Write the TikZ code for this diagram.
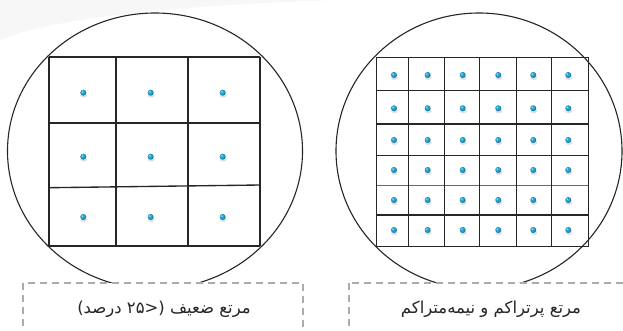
\documentclass[tikz,border=0pt]{standalone}
\usepackage{fontspec}
\newfontfamily\arabicfont[Script=Arabic]{DejaVu Sans}
\TeXXeTstate=1
\definecolor{gridc}{HTML}{262626}
\definecolor{olivec}{HTML}{6E6E58}
\definecolor{dotc}{HTML}{2AA5D0}
\definecolor{dotd}{HTML}{1A7FA6}
\definecolor{dashc}{HTML}{ABABAB}
\tikzset{
  gridline/.style={draw=gridc, line width=1.35pt},
  rim/.style={draw=black!85, line width=1.1pt},
  labelbox/.style={draw=dashc, line width=1.5pt, dash pattern=on 7pt off 5pt, fill=white},
  lbl/.style={font=\arabicfont\fontsize{16.5}{19}\selectfont, text=black!85, inner sep=0pt},
}
\newcommand{\seed}[2]{%
  \fill[black!12] (#1+0.5,#2+2.8) ellipse [x radius=3.4pt, y radius=2.2pt];
  \fill[dotd] (#1,#2) circle [radius=3pt];
  \fill[dotc] (#1-0.4,#2-0.4) circle [radius=2.3pt];
  \fill[white!60!dotc] (#1-0.9,#2-0.9) circle [radius=0.9pt];
}
\begin{document}
\begin{tikzpicture}[x=1pt,y=-1pt]
\clip (0,0) rectangle (623,330);
\fill[white] (0,0) rectangle (623,330);
% faint background reflection
\fill[black!3] (0,40) .. controls (60,15) and (200,5) .. (330,0) -- (0,0) -- cycle;
% left circle
\draw[rim] (155,151) ellipse [x radius=147.5pt, y radius=138pt];
% left grid
\draw[gridline] (49,57) -- (260,57);
\draw[gridline] (49,123) -- (260,123);
\draw[gridline] (49,187.7) -- (260,185);
\draw[gridline] (49,246) -- (260,246);
\foreach \x in {49,116,188,260} \draw[gridline] (\x,57) -- (\x,246);
\foreach \x in {83.3,150.7,222.7}
  \foreach \y in {92.7,156.7,217} {\seed{\x}{\y}}
% right circle
\draw[rim] (479,151) ellipse [x radius=143pt, y radius=138pt];
% right grid
\foreach \y in {57.3,90.7,124,155.3,215,246.7} \draw[gridline] (376.7,\y) -- (588.3,\y);
\draw[draw=olivec, line width=1.35pt] (376.7,185.3) -- (588.3,185.3);
\foreach \x in {376.7,408.3,444.3,479.3,516.7,551.7,588.3} \draw[gridline] (\x,57.3) -- (\x,246.7);
\foreach \x in {394,427.7,462.7,498.3,533.3,568.3}
  \foreach \y in {75,108.3,140,170,200,230} {\seed{\x}{\y}}
% label boxes
\draw[labelbox] (23,283) rectangle (303,345);
\draw[labelbox] (349,283) rectangle (640,345);
\node[lbl] (lowlbl) at (164,309) {\beginR مرتع ضعیف (<۲۵ درصد)\endR};
\node[lbl] (highlbl) at (491,309) {\beginR مرتع پرتراکم و نیمه‌متراکم\endR};
\end{tikzpicture}
\end{document}
